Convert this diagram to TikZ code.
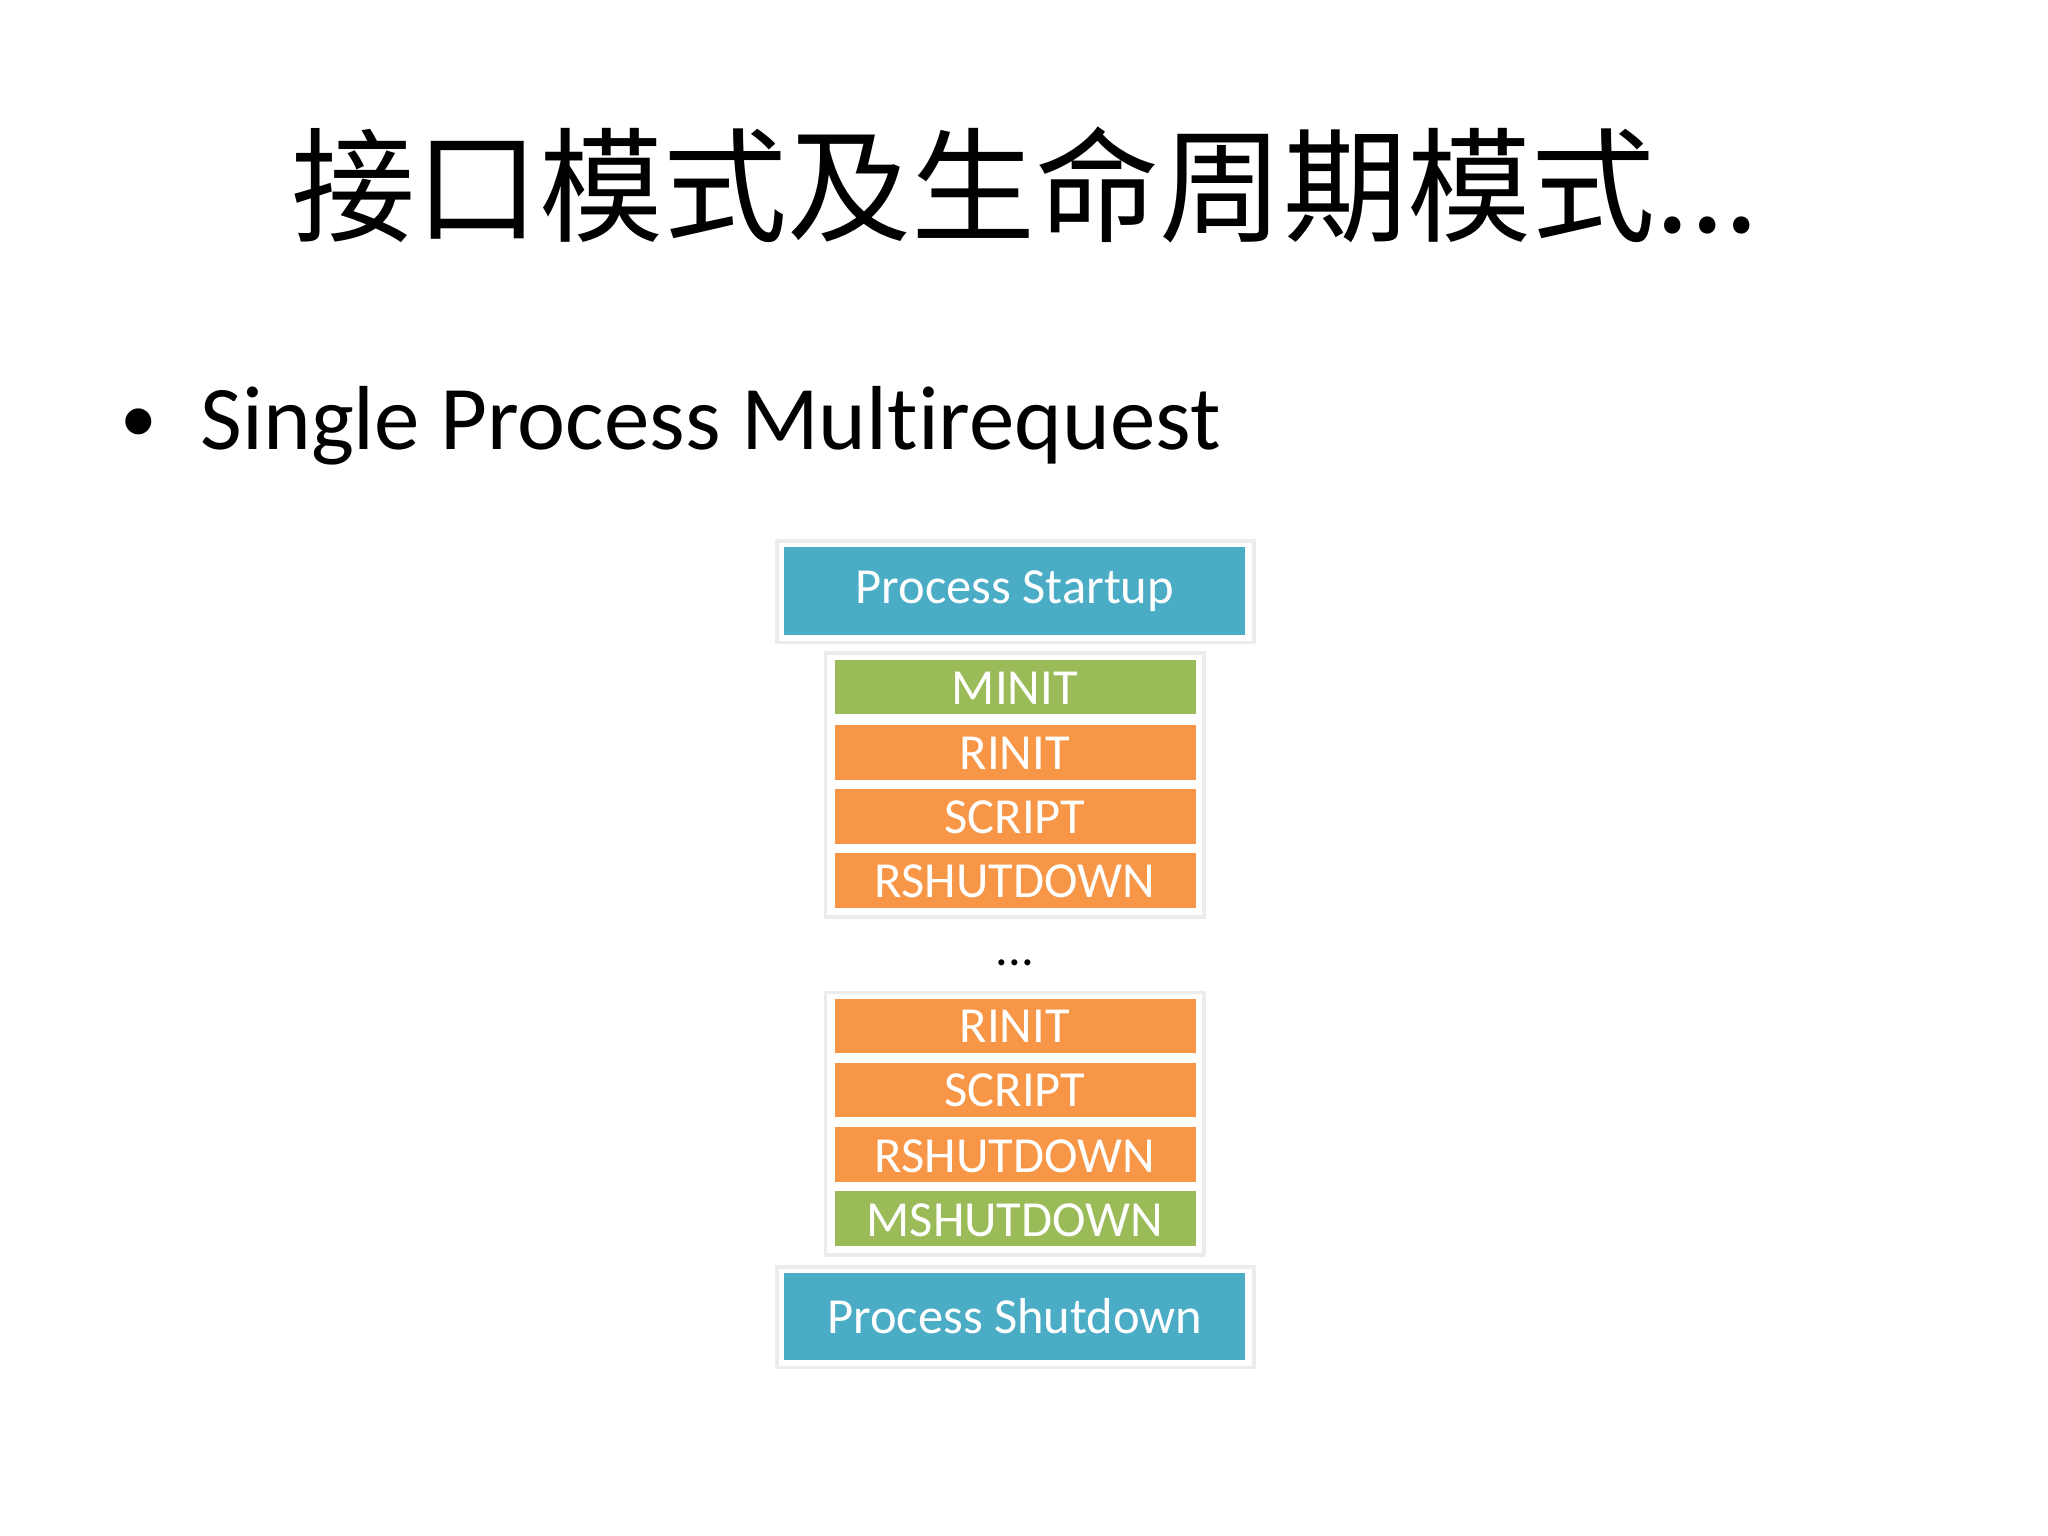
\documentclass[tikz,border=0pt]{standalone}
\usepackage{fontspec}
\setmainfont{Carlito}
\newfontfamily\cjk{Noto Sans CJK SC}
\definecolor{cblue}{HTML}{4BACC6}
\definecolor{cgreen}{HTML}{9BBB59}
\definecolor{corange}{HTML}{F79646}
\tikzset{
 frame/.style={draw=gray!15,line width=0.8pt,fill=white},
 bar/.style={text=white,font=\fontsize{11}{12}\selectfont,inner sep=0pt},
}
\begin{document}
\begin{tikzpicture}[x=0.01cm,y=-0.01cm]
\useasboundingbox (0,0) rectangle (1568,1176);
\node[font=\cjk\fontsize{27}{29}\selectfont, anchor=center] (title) at (785,142) {接口模式及生命周期模式...};
\node[font=\fontsize{16}{18}\selectfont, anchor=center] (dot) at (106,326) {•};
\node[font=\fontsize{19.8}{22}\selectfont, anchor=west,inner sep=0pt] (bullet) at (153,326) {Single Process Mult\kern0pt irequest};
\draw[frame] (595,414) rectangle (960,492);
\draw[frame] (632,500) rectangle (922,702);
\draw[frame] (632,760) rectangle (922,961);
\draw[frame] (595,970) rectangle (960,1047);
\fill[cblue] (600,419) rectangle (953,486);
\node[bar] (ps) at (777,453) {Process Startup};
\fill[cgreen] (639,505) rectangle (916,547);
\node[bar] (m1) at (777,527) {MINIT};
\fill[corange] (639,555) rectangle (916,597);
\node[bar] (r1) at (777,577) {RINIT};
\fill[corange] (639,604) rectangle (916,646);
\node[bar] (s1) at (777,626) {SCRIPT};
\fill[corange] (639,653) rectangle (916,695);
\node[bar] (rs1) at (777,675) {RSHUTDOWN};
\node[font=\fontsize{11}{12}\selectfont] (dots) at (777,737) {...};
\fill[corange] (639,765) rectangle (916,806);
\node[bar] (r2) at (777,786) {RINIT};
\fill[corange] (639,814) rectangle (916,855);
\node[bar] (s2) at (777,835) {SCRIPT};
\fill[corange] (639,863) rectangle (916,905);
\node[bar] (rs2) at (777,885) {RSHUTDOWN};
\fill[cgreen] (639,912) rectangle (916,954);
\node[bar] (ms) at (777,934) {MSHUTDOWN};
\fill[cblue] (600,975) rectangle (953,1041);
\node[bar] (pd) at (777,1008) {Process Shutdown};
\end{tikzpicture}
\end{document}
